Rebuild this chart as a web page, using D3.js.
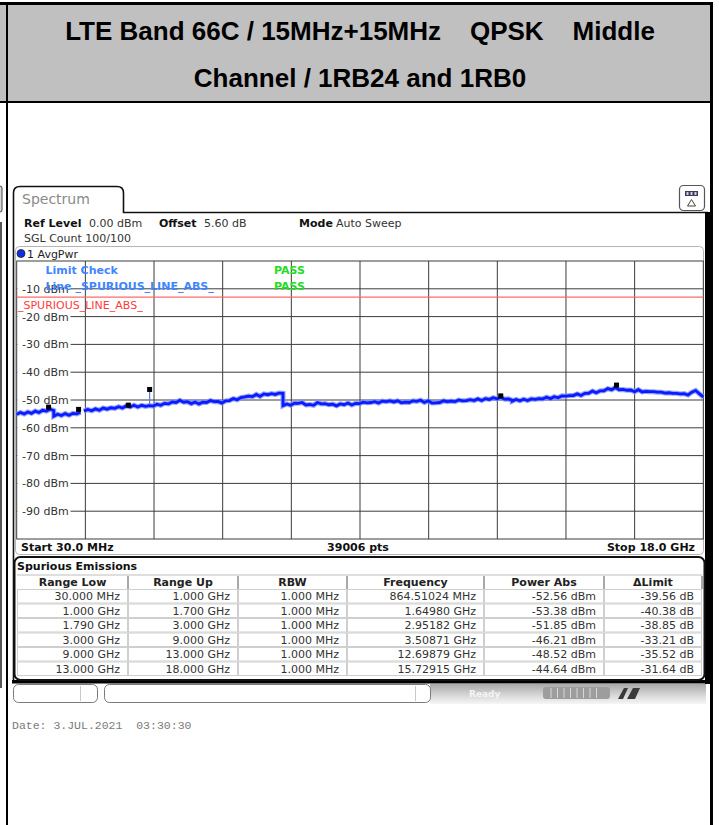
<!DOCTYPE html>
<html>
<head>
<meta charset="utf-8">
<script src="https://cdn.jsdelivr.net/npm/d3@7"></script>
<style>
  html, body { margin: 0; padding: 0; background: #fff; }
  svg { display: block; }
  text { font-family: "DejaVu Sans", Verdana, sans-serif; }
</style>
</head>
<body>
<svg id="chart" width="719" height="825"></svg>
<script>
// ---- Heading ----
const titleLines = ["LTE Band 66C / 15MHz+15MHz    QPSK    Middle", "Channel / 1RB24 and 1RB0"];

// ---- Instrument settings ----
const refLevelText = "0.00 dBm";
const offsetText = "5.60 dB";
const modeText = "Auto Sweep";
const sglCountText = "100/100";
const traceName = "1 AvgPwr";
const sweepPoints = "39006 pts";
const startLabel = "Start 30.0 MHz";
const stopLabel = "Stop 18.0 GHz";
const dateText = "Date: 3.JUL.2021  03:30:30";

// ---- Axes ----
const freqStartMHz = 30;
const freqStopMHz = 18000;
const levelTop = 0;
const levelBottom = -100;
const levelTicks = [-10, -20, -30, -40, -50, -60, -70, -80, -90];
const levelTickLabels = ["-10 dBm", "-20 dBm", "-30 dBm", "-40 dBm", "-50 dBm", "-60 dBm", "-70 dBm", "-80 dBm", "-90 dBm"];
const limitLevel = -13;
const limitName = "_SPURIOUS_LINE_ABS_";

// ---- Measured trace, one level list per sweep range (dBm, evenly spaced from start to stop) ----
const segStartMHz = [30, 1000, 1790, 3000, 7000, 9000, 13000];
const segStopMHz  = [1000, 1700, 3000, 7000, 9000, 13000, 18000];
const levels30M_1G = [-55.1, -54.5, -55.0, -54.3, -54.8, -54.0, -54.5, -53.7, -54.0, -53.3, -53.8];
const levels1G_1G7 = [-55.8, -55.1, -55.6, -54.9, -55.5, -54.8, -55.0, -54.4];
const levels1G79_3G = [-54.0, -53.4, -53.9, -53.2, -53.7, -52.9, -53.3, -52.8, -53.0, -52.4, -52.9, -52.1, -52.5];
const levels3G_7G = [-52.5, -51.9, -52.5, -51.9, -52.3, -52.0, -52.2, -51.5, -51.9, -51.2,
                     -51.4, -50.7, -50.9, -50.1, -50.8, -50.6, -51.3, -50.7, -51.4, -50.8,
                     -50.9, -50.2, -50.6, -50.5, -51.1, -50.3, -50.2, -49.5, -49.9, -49.1,
                     -48.9, -48.6, -48.8, -48.0, -48.7, -47.8, -48.1, -47.7, -48.0, -47.5, -47.6];
const levels7G_9G = [-52.0, -51.4, -51.9, -51.1, -51.2, -50.9, -51.8, -51.6, -51.9, -50.9,
                     -51.4, -51.3, -51.7, -51.5, -52.1, -51.4, -51.7, -51.1, -51.8, -51.2, -51.3];
const levels9G_13G = [-51.3, -50.8, -51.0, -50.9, -50.6, -51.1, -50.4, -50.6, -50.3, -50.7,
                      -50.3, -51.0, -50.8, -50.9, -50.3, -50.5, -50.1, -50.9, -50.3, -51.1,
                      -51.0, -50.9, -50.3, -50.6, -50.4, -50.6, -50.0, -50.3, -50.2, -49.9,
                      -50.2, -49.6, -50.2, -49.5, -49.8, -49.2, -49.6, -49.0, -49.7, -49.6, -50.1];
const levels13G_18G = [-50.4, -49.8, -50.3, -49.7, -50.2, -49.6, -49.8, -49.5, -49.6, -49.0,
                       -49.5, -48.8, -49.2, -48.5, -48.6, -48.4, -48.4, -47.8, -48.4, -47.6,
                       -47.6, -46.8, -47.4, -46.7, -46.7, -45.9, -46.3, -45.5, -46.3, -46.2,
                       -46.5, -46.4, -47.0, -46.3, -47.1, -46.9, -47.0, -47.0, -47.2, -47.2,
                       -47.5, -47.4, -47.6, -47.6, -47.8, -47.7, -48.2, -47.2, -46.6, -47.8, -48.9];
const segLevels = [levels30M_1G, levels1G_1G7, levels1G79_3G, levels3G_7G, levels7G_9G, levels9G_13G, levels13G_18G];

// ---- Spurious emissions table ----
const tableHeaders = ["Range Low", "Range Up", "RBW", "Frequency", "Power Abs", "\u0394Limit"];
const rangeLow = ["30.000 MHz", "1.000 GHz", "1.790 GHz", "3.000 GHz", "9.000 GHz", "13.000 GHz"];
const rangeUp = ["1.000 GHz", "1.700 GHz", "3.000 GHz", "9.000 GHz", "13.000 GHz", "18.000 GHz"];
const rbw = ["1.000 MHz", "1.000 MHz", "1.000 MHz", "1.000 MHz", "1.000 MHz", "1.000 MHz"];
const peakFreqMHz = [864.51024, 1649.80, 2951.82, 3508.71, 12698.79, 15729.15];
const peakPowerDbm = [-52.56, -53.38, -51.85, -46.21, -48.52, -44.64];
const deltaLimitDb = [-39.56, -40.38, -38.85, -33.21, -35.52, -31.64];

// ---------------------------------------------------------------
const svg = d3.select("#chart");
const W = 719, H = 825;

// Document frame and heading cell
svg.append("rect").attr("x", 0).attr("y", 3).attr("width", 711).attr("height", 99).attr("fill", "#c0c0c0");
svg.append("rect").attr("x", 0).attr("y", 2).attr("width", 713).attr("height", 3).attr("fill", "#000");
svg.append("rect").attr("x", 0).attr("y", 101).attr("width", 713).attr("height", 2).attr("fill", "#000");
svg.append("rect").attr("x", 6).attr("y", 2).attr("width", 2).attr("height", H).attr("fill", "#000");
svg.append("rect").attr("x", 710).attr("y", 2).attr("width", 3).attr("height", H).attr("fill", "#000");

const titleG = svg.append("g")
  .attr("font-family", "'Liberation Sans', Arial, sans-serif")
  .attr("font-weight", "bold").attr("font-size", 26).attr("fill", "#000")
  .attr("text-anchor", "middle");
titleG.selectAll("text").data(titleLines).join("text")
  .attr("x", 360).attr("y", (d, i) => 40 + i * 47)
  .style("white-space", "pre")
  .style("font-family", "'Liberation Sans', Arial, sans-serif")
  .text(d => d);

// Fragment of neighbouring element at the far left
svg.append("rect").attr("x", -8).attr("y", 186).attr("width", 10).attr("height", 26).attr("rx", 2)
  .attr("fill", "#d8d8d8").attr("stroke", "#444").attr("stroke-width", 1);
svg.append("rect").attr("x", 0).attr("y", 222).attr("width", 2).attr("height", 466).attr("fill", "#555");

// Instrument window outline with tab
svg.append("path")
  .attr("d", "M13.5,683 V193 Q13.5,186.5 20,186.5 H117 Q123.5,186.5 123.5,193 V212.5 H708")
  .attr("fill", "none").attr("stroke", "#111").attr("stroke-width", 1.6);
svg.append("rect").attr("x", 705).attr("y", 212).attr("width", 5).attr("height", 472).attr("fill", "#000");
svg.append("rect").attr("x", 12).attr("y", 680).attr("width", 699).attr("height", 3.5).attr("fill", "#000");

svg.append("text").attr("x", 22).attr("y", 204).attr("font-size", 14).attr("fill", "#8a8a8a").text("Spectrum");

// Small icon button at the top right
const icon = svg.append("g");
icon.append("rect").attr("x", 679.5).attr("y", 185.5).attr("width", 25).attr("height", 25).attr("rx", 4)
  .attr("fill", "#fff").attr("stroke", "#555").attr("stroke-width", 1.2);
icon.append("rect").attr("x", 685).attr("y", 191).attr("width", 13).attr("height", 5).attr("fill", "#3a3a5a");
icon.selectAll("rect.seg").data([0, 1, 2]).join("rect").attr("class", "seg")
  .attr("x", d => 686.5 + d * 4).attr("y", 192).attr("width", 2).attr("height", 3).attr("fill", "#d0d0e0");
icon.append("path").attr("d", "M691.5,199.5 L695.5,206 H687.5 Z").attr("fill", "none").attr("stroke", "#444").attr("stroke-width", 1);

// Settings lines
const info = svg.append("g").attr("font-size", 11).attr("fill", "#111");
const infoRow = [
  { x: 24, t: "Ref Level", b: true }, { x: 89, t: refLevelText, b: false },
  { x: 159, t: "Offset", b: true }, { x: 204, t: offsetText, b: false },
  { x: 299, t: "Mode", b: true }, { x: 336, t: modeText, b: false }
];
info.selectAll("text.r1").data(infoRow).join("text").attr("class", "r1")
  .attr("x", d => d.x).attr("y", 226.5)
  .attr("font-weight", d => d.b ? "bold" : "normal")
  .attr("fill", d => d.b ? "#111" : "#333")
  .text(d => d.t);
info.append("text").attr("x", 24).attr("y", 241.5).attr("fill", "#333").text("SGL Count " + sglCountText);

// Trace panel
svg.append("rect").attr("x", 15.5).attr("y", 246.5).attr("width", 688).attr("height", 308).attr("rx", 4)
  .attr("fill", "#fff").attr("stroke", "#b4b4b4").attr("stroke-width", 1);
svg.append("circle").attr("cx", 21).attr("cy", 253.5).attr("r", 4).attr("fill", "#1030e0").attr("stroke", "#223").attr("stroke-width", 0.8);
svg.append("text").attr("x", 27).attr("y", 257.5).attr("font-size", 11).attr("fill", "#222").text(traceName);

// Scales
const plotL = 16.7, plotR = 703.3, plotT = 261, plotB = 539;
const x = d3.scaleLinear().domain([freqStartMHz, freqStopMHz]).range([plotL, plotR]);
const y = d3.scaleLinear().domain([levelTop, levelBottom]).range([plotT, plotB]);

const plot = svg.append("g");
const gridColor = "#3c3c3c";
// vertical divisions
const nDiv = 10;
const divFreqs = d3.range(1, nDiv).map(i => freqStartMHz + i * (freqStopMHz - freqStartMHz) / nDiv);
plot.selectAll("line.vg").data(divFreqs).join("line").attr("class", "vg")
  .attr("x1", d => x(d)).attr("x2", d => x(d)).attr("y1", plotT).attr("y2", plotB)
  .attr("stroke", gridColor).attr("stroke-width", 1);
plot.selectAll("line.hg").data(levelTicks).join("line").attr("class", "hg")
  .attr("x1", plotL).attr("x2", plotR).attr("y1", d => y(d)).attr("y2", d => y(d))
  .attr("stroke", gridColor).attr("stroke-width", 1);
plot.append("rect").attr("x", plotL).attr("y", plotT).attr("width", plotR - plotL).attr("height", plotB - plotT)
  .attr("fill", "none").attr("stroke", gridColor).attr("stroke-width", 1);

// Level labels sit on the grid lines with a white backing
const yLab = plot.append("g").attr("font-size", 11).attr("fill", "#333");
levelTicks.forEach((v, i) => {
  const t = yLab.append("text").attr("x", 22).attr("y", y(v) + 4).text(levelTickLabels[i]);
  const w = t.node().getComputedTextLength();
  yLab.insert("rect", "text").attr("x", plotL + 0.8).attr("y", y(v) - 1.5).attr("width", 22 + w + 1 - plotL).attr("height", 3).attr("fill", "#fff");
});

// Limit line
plot.append("line").attr("x1", plotL).attr("x2", plotR).attr("y1", y(limitLevel)).attr("y2", y(limitLevel))
  .attr("stroke", "#ff6a6a").attr("stroke-width", 1.4);
plot.append("text").attr("x", 18).attr("y", 309).attr("font-size", 11).attr("fill", "#ff3b3b").text(limitName);

// Limit check status
const lc = plot.append("g").attr("font-size", 11).attr("font-weight", "bold");
lc.append("text").attr("x", 45.5).attr("y", 273.5).attr("fill", "#3f86ff").text("Limit Check");
lc.append("text").attr("x", 45.5).attr("y", 289.5).attr("fill", "#3f86ff").text("Line " + limitName);
lc.append("text").attr("x", 274).attr("y", 273.5).attr("fill", "#22dd22").text("PASS");
lc.append("text").attr("x", 274).attr("y", 289.5).attr("fill", "#22dd22").text("PASS");

// Trace points
const tracePts = [];
segLevels.forEach((lv, s) => {
  const f0 = segStartMHz[s], f1 = segStopMHz[s];
  if (s > 0 && segStopMHz[s - 1] !== f0) tracePts.push({ gap: true });
  lv.forEach((v, i) => tracePts.push({ f: f0 + (f1 - f0) * i / (lv.length - 1), v }));
});
const line = d3.line().defined(d => !d.gap).x(d => x(d.f)).y(d => y(d.v));

// Spur spike at the strongest in-band marker
const spikeIdx = 3;
const spikeBase = (() => {
  const pts = tracePts.filter(d => !d.gap);
  return d3.least(pts, d => Math.abs(d.f - peakFreqMHz[spikeIdx])).v;
})();
plot.append("line").attr("x1", x(peakFreqMHz[spikeIdx])).attr("x2", x(peakFreqMHz[spikeIdx]))
  .attr("y1", y(spikeBase)).attr("y2", y(peakPowerDbm[spikeIdx]))
  .attr("stroke", "#5a78ff").attr("stroke-width", 1.2);

plot.append("path").datum(tracePts).attr("d", line)
  .attr("fill", "none").attr("stroke", "#7b8cff").attr("stroke-width", 5).attr("stroke-linejoin", "miter").attr("opacity", 0.8);
plot.append("path").datum(tracePts).attr("d", line)
  .attr("fill", "none").attr("stroke", "#0a1cff").attr("stroke-width", 2.8).attr("stroke-linejoin", "miter");

// Peak markers
plot.selectAll("rect.mk").data(peakFreqMHz).join("rect").attr("class", "mk")
  .attr("x", d => x(d) - 2.5).attr("y", (d, i) => y(peakPowerDbm[i]) - 2.5)
  .attr("width", 5).attr("height", 5).attr("fill", "#000");

// Sweep span labels
const sweepG = svg.append("g").attr("font-size", 11).attr("font-weight", "bold").attr("fill", "#111");
sweepG.append("text").attr("x", 21).attr("y", 551).text(startLabel);
sweepG.append("text").attr("x", 358).attr("y", 551).attr("text-anchor", "middle").text(sweepPoints);
sweepG.append("text").attr("x", 695).attr("y", 551).attr("text-anchor", "end").text(stopLabel);

// Spurious emissions table
const tbl = svg.append("g");
tbl.append("rect").attr("x", 14.5).attr("y", 557).attr("width", 690).attr("height", 123).attr("rx", 6)
  .attr("fill", "#fff").attr("stroke", "#111").attr("stroke-width", 2);
tbl.append("text").attr("x", 17).attr("y", 569.5).attr("font-size", 11).attr("font-weight", "bold").attr("fill", "#111").text("Spurious Emissions");

const colEdges = [17, 128, 238, 347, 484, 604, 702];
const headY = 575, headH = 14, rowH = 14.5;
const rowTop = headY + headH;
tbl.append("line").attr("x1", colEdges[0]).attr("x2", colEdges[6]).attr("y1", headY).attr("y2", headY).attr("stroke", "#bdbdbd");
tbl.selectAll("text.hd").data(tableHeaders).join("text").attr("class", "hd")
  .attr("x", (d, i) => (colEdges[i] + colEdges[i + 1]) / 2).attr("y", headY + 11)
  .attr("text-anchor", "middle").attr("font-size", 11).attr("font-weight", "bold").attr("fill", "#222").text(d => d);
tbl.selectAll("line.hs").data(colEdges.slice(1)).join("line").attr("class", "hs")
  .attr("x1", d => d).attr("x2", d => d).attr("y1", headY + 1).attr("y2", headY + headH)
  .attr("stroke", "#555").attr("stroke-width", 1);

const rows = rangeLow.map((d, i) => [
  rangeLow[i], rangeUp[i], rbw[i],
  peakFreqMHz[i] < 1000 ? peakFreqMHz[i].toFixed(5) + " MHz" : (peakFreqMHz[i] / 1000).toFixed(5) + " GHz",
  peakPowerDbm[i].toFixed(2) + " dBm",
  deltaLimitDb[i].toFixed(2) + " dB"
]);
rows.forEach((r, ri) => {
  const top = rowTop + ri * rowH;
  r.forEach((cell, ci) => {
    tbl.append("rect").attr("x", colEdges[ci] + 0.5).attr("y", top + 0.5)
      .attr("width", colEdges[ci + 1] - colEdges[ci] - 1).attr("height", rowH - 1)
      .attr("fill", "#fff").attr("stroke", "#cfcfcf").attr("stroke-width", 1);
    tbl.append("text").attr("x", colEdges[ci + 1] - 8).attr("y", top + 11)
      .attr("text-anchor", "end").attr("font-size", 11).attr("fill", "#333").text(cell);
  });
});

// Status bar
const sb = svg.append("g");
const grad = svg.append("defs").append("linearGradient").attr("id", "sbGrad").attr("x1", 0).attr("y1", 0).attr("x2", 0).attr("y2", 1);
grad.append("stop").attr("offset", 0).attr("stop-color", "#a9a9a9");
grad.append("stop").attr("offset", 0.55).attr("stop-color", "#d6d6d6");
grad.append("stop").attr("offset", 1).attr("stop-color", "#f6f6f6");
sb.append("rect").attr("x", 430).attr("y", 684).attr("width", 276).attr("height", 20).attr("fill", "url(#sbGrad)");
sb.append("rect").attr("x", 13.5).attr("y", 684.5).attr("width", 84).attr("height", 18).attr("rx", 5)
  .attr("fill", "#fff").attr("stroke", "#7a7a7a");
sb.append("line").attr("x1", 80.5).attr("x2", 80.5).attr("y1", 686).attr("y2", 701).attr("stroke", "#c8c8c8");
sb.append("rect").attr("x", 104.5).attr("y", 684.5).attr("width", 326).attr("height", 18).attr("rx", 5)
  .attr("fill", "#fff").attr("stroke", "#7a7a7a");
sb.append("line").attr("x1", 415.5).attr("x2", 415.5).attr("y1", 686).attr("y2", 701).attr("stroke", "#c8c8c8");
sb.append("text").attr("x", 469).attr("y", 697).attr("font-size", 9).attr("font-weight", "bold").attr("fill", "#f4f4f4").text("Ready");
sb.append("rect").attr("x", 543).attr("y", 687).attr("width", 67).attr("height", 12).attr("rx", 3).attr("fill", "#9d9d9d");
sb.selectAll("line.pb").data(d3.range(8)).join("line").attr("class", "pb")
  .attr("x1", d => 551 + d * 6.5).attr("x2", d => 551 + d * 6.5).attr("y1", 688).attr("y2", 698)
  .attr("stroke", "#d8d8d8").attr("stroke-width", 1);
sb.append("path").attr("d", "M618,699 L624,688 H628 L623,699 Z M627,699 L633,688 H640 L635,699 Z")
  .attr("fill", "#3a3a3a");

// Capture date
svg.append("text").attr("x", 12).attr("y", 728.5)
  .attr("font-family", "'Liberation Mono', 'DejaVu Sans Mono', monospace").style("font-family", "'Liberation Mono', 'DejaVu Sans Mono', monospace")
  .attr("font-size", 11.5).attr("fill", "#7a7a7a").style("white-space", "pre").text(dateText);
</script>
</body>
</html>
